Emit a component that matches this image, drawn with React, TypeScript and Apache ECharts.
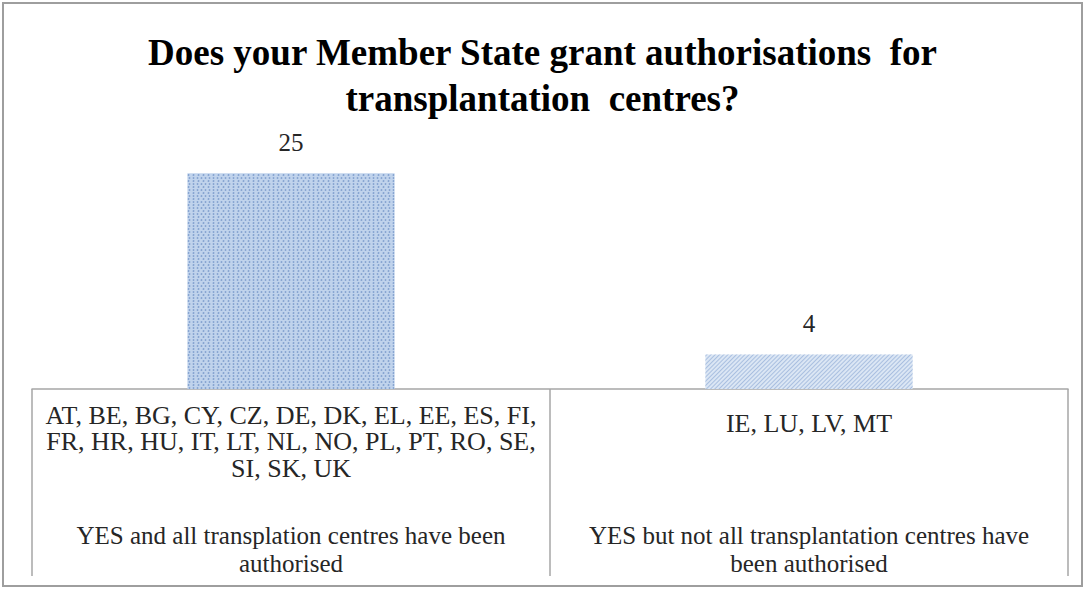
import React, { useEffect, useRef } from "react";
import * as echarts from "echarts";

const titleText = "Does your Member State grant authorisations  for\ntransplantation  centres?";
const categories = [
  "YES and all transplation centres have been authorised",
  "YES but not all transplantation centres have been authorised",
];
const values = [25, 4];
const countryLines = [
  [
    "AT, BE, BG, CY, CZ, DE, DK, EL, EE, ES, FI,",
    "FR, HR, HU, IT, LT, NL, NO, PL, PT, RO, SE,",
    "SI, SK, UK",
  ],
  ["IE, LU, LV, MT"],
];
const descLines = [
  ["YES and all transplation centres have been", "authorised"],
  ["YES but not all transplantation centres have", "been authorised"],
];

const FONT = "'Liberation Serif', 'Times New Roman', serif";

export default function App() {
  const ref = useRef<HTMLDivElement>(null);
  useEffect(() => {
    if (!ref.current) return;
    const chart = echarts.init(ref.current, undefined, { renderer: "svg" });
    const option: any = {
      animation: false,
      backgroundColor: "#ffffff",
      title: {
        text: titleText,
        left: "center",
        top: 24,
        textStyle: {
          fontFamily: FONT,
          fontWeight: "bold",
          fontSize: 37,
          lineHeight: 46,
          color: "#000000",
        },
      },
      grid: { left: 32, right: 17, top: 130, bottom: 200, containLabel: false },
      xAxis: {
        type: "category",
        data: categories,
        boundaryGap: true,
        axisLine: { show: true, lineStyle: { color: "#a6a6a6", width: 1.5 } },
        axisTick: { show: true, length: 187, lineStyle: { color: "#a6a6a6", width: 1.5 } },
        axisLabel: {
          interval: 0,
          margin: 13,
          verticalAlign: "top",
          formatter: (_v: string, idx: number) => {
            const c = countryLines[idx];
            const d = descLines[idx];
            if (c.length > 1) {
              return (
                c.map((l) => `{c|${l}}`).join("\n") +
                "\n{g1| }\n" +
                d.map((l) => `{d|${l}}`).join("\n")
              );
            }
            return (
              c.map((l) => `{c2|${l}}`).join("\n") +
              "\n{g2| }\n" +
              d.map((l) => `{d|${l}}`).join("\n")
            );
          },
          rich: {
            c: { fontFamily: FONT, fontSize: 26, lineHeight: 26.5, color: "#262626", align: "center" },
            c2: { fontFamily: FONT, fontSize: 26, lineHeight: 42, color: "#262626", align: "center" },
            g1: { fontSize: 10, lineHeight: 39.5, align: "center" },
            g2: { fontSize: 10, lineHeight: 77, align: "center" },
            d: { fontFamily: FONT, fontSize: 25, lineHeight: 28, color: "#262626", align: "center" },
          },
        },
      },
      yAxis: {
        type: "value",
        min: 0,
        max: 30,
        show: false,
        splitLine: { show: false },
      },
      series: [
        {
          type: "bar",
          barWidth: "40%",
          data: values.map((v, i) => ({
            value: v,
            itemStyle:
              i === 0
                ? {
                    color: "#c0d3ec",
                    decal: {
                      symbol: "circle",
                      symbolSize: 0.9,
                      color: "#84a2cf",
                      dashArrayX: [[3, 1], [0, 2, 3, 0]],
                      dashArrayY: [2, 1],
                      rotation: 0,
                    },
                  }
                : {
                    color: "#dbe6f4",
                    decal: {
                      symbol: "rect",
                      symbolSize: 1,
                      color: "#a9bfe0",
                      dashArrayX: [1, 0],
                      dashArrayY: [1, 2],
                      rotation: -Math.PI / 4,
                    },
                  },
          })),
          label: {
            show: true,
            position: "top",
            distance: 18,
            fontFamily: FONT,
            fontSize: 25,
            color: "#262626",
          },
        },
      ],
      graphic: [
        {
          type: "rect",
          shape: { x: 3, y: 3, width: 1079, height: 583 },
          style: { fill: "none", stroke: "#9e9e9e", lineWidth: 2 },
          silent: true,
          z: 100,
        },
      ],
    };
    chart.setOption(option);
    return () => chart.dispose();
  }, []);
  return (
    <div
      ref={ref}
      style={{ position: "absolute", left: 0, top: 0, width: 1085, height: 589 }}
    />
  );
}
